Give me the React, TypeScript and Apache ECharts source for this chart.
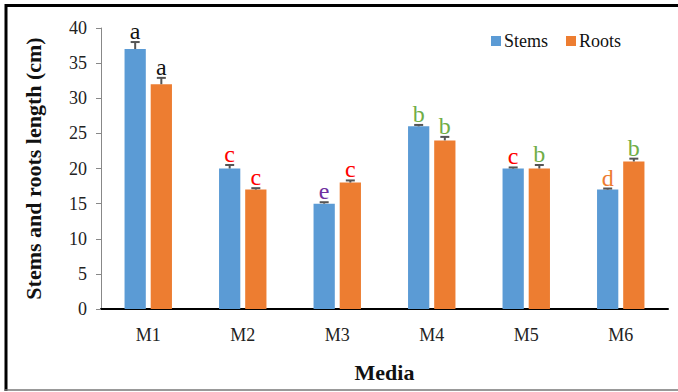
import React, { useEffect, useRef } from "react";
import * as echarts from "echarts";

// Growth measurements per culture medium
const categories = ["M1", "M2", "M3", "M4", "M5", "M6"];
const stemsLength = [37, 20, 15, 26, 20, 17];
const rootsLength = [32, 17, 18, 24, 20, 21];
const stemsError = [1.0, 0.5, 0.2, 0.2, 0.15, 0.15];
const rootsError = [0.9, 0.2, 0.3, 0.5, 0.5, 0.4];
// Significance letters above each bar
const stemsLetters = ["a", "c", "e", "b", "c", "d"];
const rootsLetters = ["a", "c", "c", "b", "b", "b"];
const yTicks = [0, 5, 10, 15, 20, 25, 30, 35, 40];

const letterColors: Record<string, string> = {
  a: "#111111",
  b: "#70ad47",
  c: "#ff0000",
  d: "#ed7d31",
  e: "#7030a0",
};

const BAR_WIDTH_RATIO = 0.225;
const BAR_GAP_RATIO = 0.23;
const SERIF = "Liberation Serif, DejaVu Serif, serif";

function errorSeries(
  values: number[],
  errors: number[],
  letters: string[],
  side: number
) {
  return {
    type: "custom",
    silent: true,
    z: 5,
    data: values.map((v, i) => [i, v, errors[i]]),
    renderItem: (params: any, api: any) => {
      const idx = api.value(0);
      const val = api.value(1);
      const err = api.value(2);
      const band = api.size([1, 0])[0];
      const barW = band * BAR_WIDTH_RATIO;
      const offset = (side * (barW + barW * BAR_GAP_RATIO)) / 2;
      const base = api.coord([idx, val]);
      const top = api.coord([idx, val + err]);
      const x = base[0] + offset;
      const lineStyle = { stroke: "#555555", lineWidth: 2 };
      const letter = letters[idx];
      return {
        type: "group",
        children: [
          {
            type: "line",
            shape: { x1: x, y1: base[1], x2: x, y2: top[1] },
            style: lineStyle,
          },
          {
            type: "line",
            shape: { x1: x - 4.5, y1: top[1], x2: x + 4.5, y2: top[1] },
            style: lineStyle,
          },
          {
            type: "text",
            x: x,
            y: top[1] + 1,
            style: {
              text: letter,
              fill: letterColors[letter],
              fontFamily: SERIF,
              fontSize: 24,
              align: "center",
              verticalAlign: "bottom",
            },
          },
        ],
      };
    },
  };
}

export default function App() {
  const ref = useRef<HTMLDivElement>(null);

  useEffect(() => {
    if (!ref.current) return;
    const chart = echarts.init(ref.current, null, { renderer: "svg" });
    chart.setOption({
      animation: false,
      backgroundColor: "#ffffff",
      textStyle: { fontFamily: SERIF },
      graphic: [
        {
          type: "line",
          shape: { x1: 5, y1: 5.5, x2: 678, y2: 5.5 },
          style: { stroke: "#000000", lineWidth: 3 },
        },
        {
          type: "line",
          shape: { x1: 6, y1: 4, x2: 6, y2: 391 },
          style: { stroke: "#000000", lineWidth: 3 },
        },
        {
          type: "line",
          shape: { x1: 5, y1: 390, x2: 678, y2: 390 },
          style: { stroke: "#777777", lineWidth: 1.5 },
        },
      ],
      legend: {
        data: ["Stems", "Roots"],
        left: 486,
        top: 27,
        itemWidth: 10,
        itemHeight: 10,
        itemGap: 18,
        icon: "rect",
        textStyle: { fontFamily: SERIF, fontSize: 18, color: "#111111", padding: [0, 0, 0, -2] },
      },
      grid: { left: 101, right: 10, top: 28, bottom: 83 },
      xAxis: {
        type: "category",
        data: categories,
        name: "Media",
        nameLocation: "middle",
        nameGap: 52,
        nameTextStyle: { fontFamily: SERIF, fontSize: 22, fontWeight: "bold", color: "#111111" },
        axisLine: { lineStyle: { color: "#000000", width: 2 } },
        axisTick: { show: false },
        axisLabel: { fontFamily: SERIF, fontSize: 18, color: "#222222", margin: 17 },
      },
      yAxis: {
        type: "value",
        min: yTicks[0],
        max: yTicks[yTicks.length - 1],
        interval: 5,
        name: "Stems and roots length (cm)",
        nameLocation: "middle",
        nameGap: 57,
        nameTextStyle: { fontFamily: SERIF, fontSize: 22, fontWeight: "bold", color: "#111111" },
        axisLine: { show: true, lineStyle: { color: "#888888", width: 1 } },
        axisTick: { show: true, length: 5, lineStyle: { color: "#888888" } },
        axisLabel: { fontFamily: SERIF, fontSize: 18, color: "#222222", margin: 14 },
        splitLine: { show: false },
      },
      series: [
        {
          name: "Stems",
          type: "bar",
          data: stemsLength,
          barWidth: `${BAR_WIDTH_RATIO * 100}%`,
          barGap: `${BAR_GAP_RATIO * 100}%`,
          itemStyle: { color: "#5b9bd5" },
        },
        {
          name: "Roots",
          type: "bar",
          data: rootsLength,
          barWidth: `${BAR_WIDTH_RATIO * 100}%`,
          barGap: `${BAR_GAP_RATIO * 100}%`,
          itemStyle: { color: "#ed7d31" },
        },
        errorSeries(stemsLength, stemsError, stemsLetters, -1),
        errorSeries(rootsLength, rootsError, rootsLetters, 1),
      ],
    });
    return () => chart.dispose();
  }, []);

  return (
    <div
      ref={ref}
      style={{ position: "fixed", left: 0, top: 0, width: 678, height: 392 }}
    />
  );
}
